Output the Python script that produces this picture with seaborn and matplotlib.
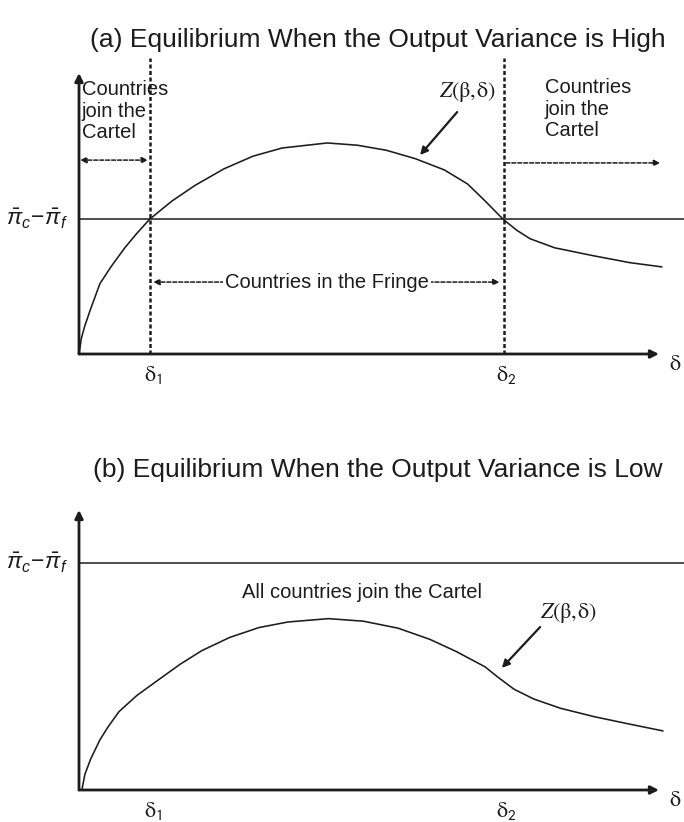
import matplotlib
matplotlib.use("Agg")
import matplotlib.pyplot as plt
from matplotlib.patches import FancyArrowPatch
import seaborn as sns
import pandas as pd

# ---- curve data (delta on the x axis, Z(beta, delta) on the y axis) ----
delta_high = [0.0, 0.04, 0.1, 0.2, 0.36, 0.55, 0.79, 1.0, 1.22, 1.6, 2.0, 2.5, 3.0,
              3.5, 4.28, 4.8, 5.3, 5.8, 6.3, 6.7, 7.0, 7.31, 7.55, 7.78, 8.2, 8.86,
              9.5, 10.05]
z_high = [0.0, 0.55, 1.0, 1.6, 2.5, 3.1, 3.78, 4.3, 4.8, 5.44, 6.0, 6.59, 7.04,
          7.33, 7.51, 7.43, 7.25, 6.95, 6.55, 6.05, 5.45, 4.80, 4.40, 4.10, 3.78,
          3.50, 3.25, 3.10]

delta_low = [0.05, 0.1, 0.2, 0.36, 0.5, 0.69, 1.0, 1.38, 1.75, 2.12, 2.6, 3.1, 3.6,
             4.3, 4.9, 5.5, 6.05, 6.5, 7.0, 7.21, 7.5, 7.84, 8.3, 8.88, 9.5, 10.07]
z_low = [0.0, 0.55, 1.1, 1.79, 2.25, 2.8, 3.38, 3.95, 4.5, 4.98, 5.45, 5.8, 6.0,
         6.12, 6.03, 5.78, 5.38, 4.95, 4.40, 4.05, 3.60, 3.25, 2.92, 2.62, 2.35, 2.11]

# threshold level pi_c - pi_f in each panel
threshold_high = 4.8
threshold_low = 8.11

# critical discount factors
delta_1 = 1.23
delta_2 = 7.32

titles = ["(a) Equilibrium When the Output Variance is High",
          "(b) Equilibrium When the Output Variance is Low"]
cartel_lines = ["Countries", "join the", "Cartel"]
fringe_label = "Countries in the Fringe"
all_join_label = "All countries join the Cartel"
z_label = r"$Z(\mathrm{\beta},\!\mathrm{\delta})$"
gap_label = r"$\bar{\pi}_c\!-\!\bar{\pi}_f$"
delta_labels = [r"$\mathrm{\delta}_{\mathsf{1}}$", r"$\mathrm{\delta}_{\mathsf{2}}$"]
axis_label = r"$\mathrm{\delta}$"

# ---- styling ----
sns.set_theme(style="white")
plt.rcParams["font.family"] = ["Liberation Sans", "DejaVu Sans"]
plt.rcParams["mathtext.fontset"] = "custom"
plt.rcParams["mathtext.rm"] = "Liberation Sans"
plt.rcParams["mathtext.it"] = "Liberation Sans:italic"
plt.rcParams["mathtext.sf"] = "Liberation Sans"

INK = "#1c1c1c"
W, H = 684, 822
fig = plt.figure(figsize=(W / 100, H / 100), dpi=100)
fig.patch.set_facecolor("white")


def panel_axes(top_px, bottom_px, ox, oy, sx, sy):
    ax = fig.add_axes([0, 1 - bottom_px / H, 1, (bottom_px - top_px) / H])
    ax.set_xlim((0 - ox) / sx, (W - ox) / sx)
    ax.set_ylim((oy - bottom_px) / sy, (oy - top_px) / sy)
    ax.set_axis_off()
    return ax


def arrow(ax, p0, p1, style="-|>", lw=2.0, ls="-", ms=13, z=3):
    ax.add_patch(FancyArrowPatch(p0, p1, arrowstyle=style, mutation_scale=ms,
                                 lw=lw, linestyle=ls, color=INK,
                                 shrinkA=0, shrinkB=0, zorder=z))


def axes_frame(ax):
    arrow(ax, (0, 0), (0, 10.0), lw=2.0, ms=12)
    arrow(ax, (0, 0), (10.0, 0), lw=2.0, ms=12)
    ax.text(10.18, -0.38, axis_label, fontsize=16, ha="left", va="center",
            math_fontfamily="stix", color=INK)
    for d, lab in zip((delta_1, delta_2), delta_labels):
        ax.text(d + 0.05, -0.75, lab, fontsize=16, ha="center", va="center",
                math_fontfamily="stix", color=INK)


def curve(ax, xs, ys):
    df = pd.DataFrame({"delta": xs, "Z": ys})
    sns.lineplot(data=df, x="delta", y="Z", ax=ax, color=INK, lw=1.15,
                 sort=False, estimator=None, legend=False)
    ax.set_axis_off()


# ---- panel (a) ----
ax_a = panel_axes(0, 410, 79, 354, 58, 28.1)
axes_frame(ax_a)
curve(ax_a, delta_high, z_high)
ax_a.plot([0, ax_a.get_xlim()[1]], [threshold_high, threshold_high],
          color=INK, lw=1.1, zorder=2)
for d in (delta_1, delta_2):
    ax_a.plot([d, d], [0, 10.55], color=INK, lw=1.8,
              linestyle=(0, (1.6, 1.0)), zorder=2)
ax_a.text(-0.72, threshold_high, gap_label, fontsize=16.5, ha="center",
          va="center", color=INK)

for i, line in enumerate(cartel_lines):
    ax_a.text(0.05, 9.40 - 0.76 * i, line, fontsize=14.5, ha="left",
              va="center", color=INK)
    ax_a.text(8.03, 9.47 - 0.76 * i, line, fontsize=14.5, ha="left",
              va="center", color=INK)

dash = (0, (2.6, 1.3))
arrow(ax_a, (0.02, 6.9), (delta_1 - 0.04, 6.9), style="<|-|>", lw=1.1, ls=dash, ms=9)
arrow(ax_a, (delta_2 + 0.04, 6.8), (10.02, 6.8), style="-|>", lw=1.1, ls=dash, ms=9)
arrow(ax_a, (delta_1 + 0.05, 2.56), (delta_2 - 0.07, 2.56), style="<|-|>",
      lw=1.1, ls=dash, ms=9)
ax_a.text(4.28, 2.56, fringe_label, fontsize=14.5, ha="center", va="center",
          color=INK, zorder=5,
          bbox=dict(facecolor="white", edgecolor="none", pad=1.5))

ax_a.text(6.69, 9.32, z_label, fontsize=16, ha="center", va="center",
          math_fontfamily="stix", color=INK)
arrow(ax_a, (6.52, 8.61), (5.88, 7.08), style="-|>", lw=1.6, ms=11)

# ---- panel (b) ----
ax_b = panel_axes(410, 822, 79, 790, 58, 28)
axes_frame(ax_b)
curve(ax_b, delta_low, z_low)
ax_b.plot([0, ax_b.get_xlim()[1]], [threshold_low, threshold_low],
          color=INK, lw=1.1, zorder=2)
ax_b.text(-0.72, threshold_low, gap_label, fontsize=16.5, ha="center",
          va="center", color=INK)
ax_b.text(4.88, 7.07, all_join_label, fontsize=14.5, ha="center",
          va="center", color=INK)
ax_b.text(8.43, 6.32, z_label, fontsize=16, ha="center", va="center",
          math_fontfamily="stix", color=INK)
arrow(ax_b, (7.95, 5.82), (7.29, 4.36), style="-|>", lw=1.6, ms=11)

# ---- titles ----
fig.text(378 / W, 1 - 40 / H, titles[0], fontsize=19, ha="center",
         va="center", color=INK)
fig.text(378 / W, 1 - 470 / H, titles[1], fontsize=19, ha="center",
         va="center", color=INK)

fig.savefig("out.png", dpi=100, facecolor="white")
